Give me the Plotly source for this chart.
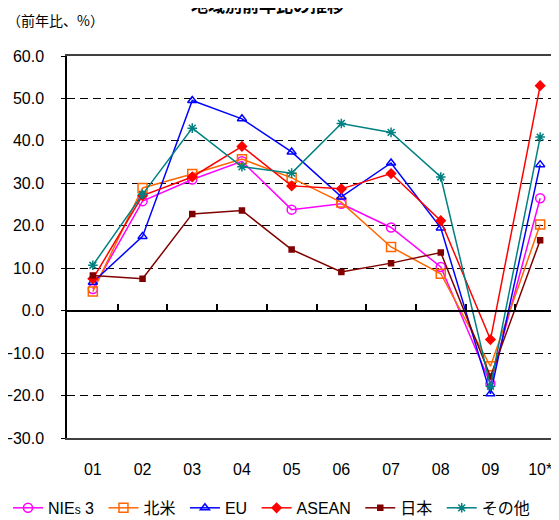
import plotly.graph_objects as go

# ── Data ─────────────────────────────────────────────────────────────────────
years = ["01", "02", "03", "04", "05", "06", "07", "08", "09", "10*"]

nies3  = [5.1, 25.8, 30.9, 35.2, 23.8, 25.2, 19.6, 10.3, -17.2, 26.5]
hokubei = [4.5, 28.9, 32.2, 35.7, 31.3, 25.5, 15.0, 8.7, -13.1, 20.3]
eu     = [6.7, 17.5, 49.5, 45.2, 37.4, 26.8, 34.8, 19.5, -19.6, 34.4]
asean  = [7.5, 27.1, 31.5, 38.7, 29.4, 28.7, 32.3, 21.2, -6.8, 53.0]
japan  = [8.3, 7.5, 22.8, 23.6, 14.4, 9.1, 11.2, 13.7, -15.5, 16.6]
other  = [10.7, 27.4, 43.0, 33.9, 32.4, 44.1, 42.0, 31.5, -17.8, 40.9]

y_ticks = [60, 50, 40, 30, 20, 10, 0, -10, -20, -30]

FONT = "Liberation Sans, Arial, Noto Sans CJK JP"

series = [
    ("NIE<span style='font-size:12px'>s</span> 3 ", nies3, "#FF00FF", "circle-open", 9),
    ("北米 ", hokubei, "#FF6600", "square-open", 9),
    ("EU ", eu, "#0000FF", "triangle-up-open", 8),
    ("ASEAN ", asean, "#FF0000", "diamond", 7),
    ("日本 ", japan, "#800000", "square", 5),
    ("その他", other, "#008080", "asterisk-open", 8),
]

fig = go.Figure()
for name, vals, col, sym, size in series:
    fig.add_trace(go.Scatter(
        x=years, y=vals, name=name,
        mode="lines+markers",
        line=dict(color=col, width=1.5),
        marker=dict(symbol=sym, size=size, color=col,
                    line=dict(color=col, width=1.5)),
    ))

# invisible trace to carry the zero-line axis with category tick marks
fig.add_trace(go.Scatter(x=years, y=[0] * len(years), xaxis="x2",
                         mode="none", showlegend=False, hoverinfo="skip"))

# page body adds an 8px offset, so margins are trimmed by 8px here
fig.update_layout(
    width=559, height=520,
    margin=dict(l=56, r=0, t=48, b=90),
    paper_bgcolor="white", plot_bgcolor="white",
    font=dict(family=FONT, color="black", size=16),
    xaxis=dict(
        type="category", range=[-0.52, 9.54], automargin=False,
        showline=True, linecolor="#404040", linewidth=2, mirror=True,
        ticks="outside", ticklen=16, tickcolor="rgba(0,0,0,0)",
        showgrid=False, tickfont=dict(size=16),
    ),
    xaxis2=dict(
        type="category", matches="x", overlaying="x",
        anchor="free", position=1 / 3, automargin=False,
        showline=True, linecolor="black", linewidth=1.5,
        ticks="inside", tickson="boundaries", ticklen=6,
        tickcolor="black", tickwidth=1.5,
        showticklabels=False, showgrid=False,
    ),
    yaxis=dict(
        range=[-30, 60], tickvals=y_ticks, tickformat=".1f", automargin=False,
        showline=True, linecolor="black", linewidth=1.5,
        ticks="outside", ticklen=4, tickcolor="black",
        ticklabelstandoff=14,
        showgrid=True, gridcolor="black", gridwidth=1, griddash="8px,5px",
        zeroline=False, tickfont=dict(size=16),
    ),
    legend=dict(
        orientation="h", x=-0.118, xanchor="left", y=-0.183, yanchor="middle",
        font=dict(size=16), bgcolor="rgba(0,0,0,0)",
        tracegroupgap=0,
    ),
    annotations=[
        dict(text="<b>地域別前年比の推移</b>", xref="paper", yref="paper",
             x=0.40, y=1.134, xanchor="center", yanchor="middle",
             showarrow=False, font=dict(size=17, family="Noto Sans CJK JP")),
        dict(text="（前年比、%）", xref="paper", yref="paper",
             x=-0.125, y=1.095, xanchor="left", yanchor="middle",
             showarrow=False, font=dict(size=14, family="Noto Sans CJK JP")),
    ],
)

fig.write_html("out.html")
